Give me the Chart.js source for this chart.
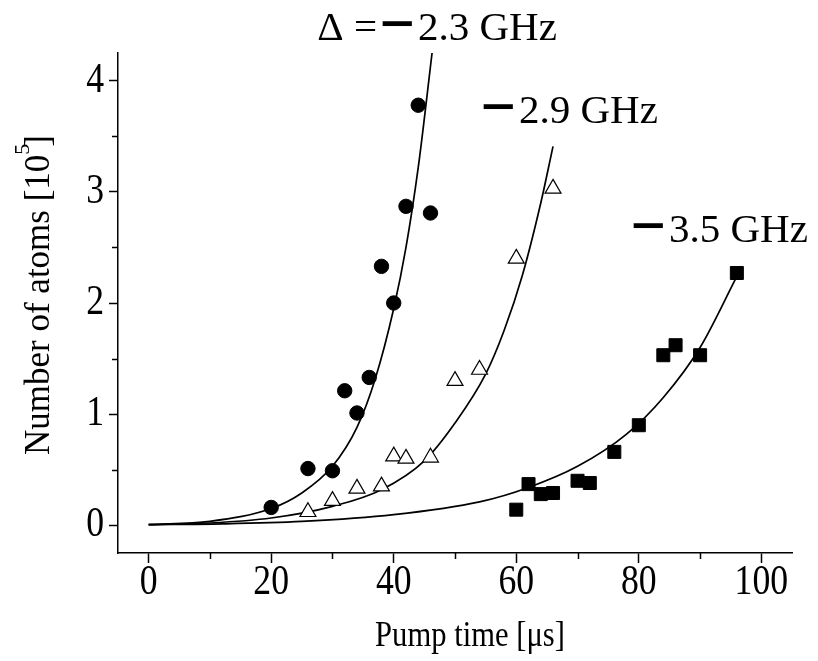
<!DOCTYPE html>
<html>
<head>
<meta charset="utf-8">
<script src="https://cdn.jsdelivr.net/npm/chart.js@4.4.1/dist/chart.umd.min.js"></script>
<style>
    html, body { margin: 0; padding: 0; background: #ffffff; }
    #pumpChart { display: block; }
</style>
</head>
<body>
<canvas id="pumpChart" width="818" height="661"></canvas>
<script>
// Measured points (pump time in us, atoms in 1e5)
var circleTime = [20, 26, 30, 32, 34, 36, 38, 40, 42, 44, 46];
var circleAtoms = [0.16, 0.51, 0.49, 1.21, 1.01, 1.33, 2.33, 2.00, 2.87, 3.78, 2.81];
var triangleTime = [26, 30, 34, 38, 40, 42, 46, 50, 54, 60, 66];
var triangleAtoms = [0.12, 0.22, 0.33, 0.35, 0.62, 0.60, 0.61, 1.30, 1.40, 2.40, 3.03];
var squareTime = [60, 62, 64, 66, 70, 72, 76, 80, 84, 86, 90, 96];
var squareAtoms = [0.14, 0.37, 0.28, 0.29, 0.40, 0.38, 0.66, 0.90, 1.53, 1.62, 1.53, 2.27];

// Fit curves
var fitTimeA = [0, 10, 20, 25, 30, 34, 37, 40, 42, 44, 46.3];
var fitAtomsA = [0.005, 0.035, 0.15, 0.29, 0.53, 0.88, 1.32, 1.95, 2.5, 3.22, 4.27];
var fitTimeB = [0, 10, 20, 30, 38, 45, 50, 55, 58, 61, 64, 66];
var fitAtomsB = [0.005, 0.02, 0.065, 0.17, 0.32, 0.58, 0.92, 1.36, 1.75, 2.25, 2.9, 3.41];
var fitTimeC = [0, 12, 25, 40, 54, 62, 70, 78, 84, 90, 96];
var fitAtomsC = [0.005, 0.012, 0.034, 0.095, 0.21, 0.34, 0.53, 0.82, 1.15, 1.6, 2.24];

// Axes
var xTicks = [0, 20, 40, 60, 80, 100];
var xMinorTicks = [10, 30, 50, 70, 90];
var yTicks = [0, 1, 2, 3, 4];
var yMinorTicks = [0.5, 1.5, 2.5, 3.5];
var detuningPrefix = ['\u0394 =', '', ''];
var detuningValues = ['2.3 GHz', '2.9 GHz', '3.5 GHz'];

function toPoints(xs, ys) {
    return xs.map(function(x, i) { return { x: x, y: ys[i] }; });
}

const SERIF = '"Liberation Serif", "Times New Roman", serif';
// the original figure squeezes its axis text sideways
const SQUEEZE = 0.85;

function squeezedText(ctx, text, x, y, align) {
    ctx.save();
    ctx.translate(x, y);
    ctx.scale(SQUEEZE, 1);
    ctx.textAlign = align;
    ctx.fillText(text, 0, 0);
    ctx.restore();
}

// Minor ticks, tick labels, axis titles and the detuning labels
const figureTextPlugin = {
    id: 'figureText',
    afterDraw: function(chart) {
        const ctx = chart.ctx;
        const area = chart.chartArea;
        const xs = chart.scales.x;
        const ys = chart.scales.y;
        ctx.save();

        // minor tick marks
        ctx.strokeStyle = '#000';
        ctx.lineWidth = 1.5;
        ctx.beginPath();
        xMinorTicks.forEach(function(v) {
            const px = Math.round(xs.getPixelForValue(v)) + 0.5;
            ctx.moveTo(px, area.bottom);
            ctx.lineTo(px, area.bottom + 6);
        });
        yMinorTicks.forEach(function(v) {
            const py = Math.round(ys.getPixelForValue(v)) + 0.5;
            ctx.moveTo(area.left, py);
            ctx.lineTo(area.left - 6, py);
        });
        ctx.stroke();

        ctx.fillStyle = '#000';

        // tick labels
        ctx.font = '42px ' + SERIF;
        ctx.textBaseline = 'middle';
        xs.ticks.forEach(function(t) {
            squeezedText(ctx, String(t.value), xs.getPixelForValue(t.value), 583, 'center');
        });
        ys.ticks.forEach(function(t) {
            squeezedText(ctx, String(t.value), 104, ys.getPixelForValue(t.value), 'right');
        });

        ctx.textBaseline = 'alphabetic';

        // x title
        ctx.font = '36px ' + SERIF;
        squeezedText(ctx, 'Pump time [\u03bcs]', 470, 646, 'center');

        // y title with superscript
        ctx.save();
        ctx.translate(49, 455);
        ctx.rotate(-Math.PI / 2);
        ctx.textAlign = 'left';
        ctx.font = '35px ' + SERIF;
        const main = 'Number of atoms [10';
        const w = ctx.measureText(main).width;
        ctx.fillText(main, 0, 0);
        ctx.font = '22px ' + SERIF;
        const sw = ctx.measureText('5').width;
        ctx.fillText('5', w, -20);
        ctx.font = '35px ' + SERIF;
        ctx.fillText(']', w + sw - 3, 0);
        ctx.restore();

        // detuning labels: dash left edge, baseline
        const spots = [[382, 40], [483, 123], [633, 242]];
        spots.forEach(function(s, i) {
            const dashLeft = s[0], base = s[1];
            ctx.font = '41px ' + SERIF;
            if (detuningPrefix[i]) {
                ctx.textAlign = 'right';
                ctx.fillText(detuningPrefix[i], dashLeft - 5, base);
            }
            ctx.textAlign = 'left';
            ctx.font = 'bold 42px "DejaVu Sans"';
            const m = ctx.measureText('\u2212');
            const inkW = m.actualBoundingBoxLeft + m.actualBoundingBoxRight;
            const cy = base - 16;
            const dashBase = cy + (m.actualBoundingBoxAscent - m.actualBoundingBoxDescent) / 2;
            ctx.save();
            ctx.translate(dashLeft, dashBase);
            ctx.scale(30 / inkW, 1);
            ctx.fillText('\u2212', m.actualBoundingBoxLeft, 0);
            ctx.restore();
            ctx.font = '41px ' + SERIF;
            ctx.fillText(detuningValues[i], dashLeft + 36, base);
        });

        ctx.restore();
    }
};

const curveStyle = {
    showLine: true,
    borderColor: '#000',
    borderWidth: 1.7,
    pointRadius: 0,
    cubicInterpolationMode: 'monotone',
    fill: false
};

const ctx = document.getElementById('pumpChart').getContext('2d');
new Chart(ctx, {
    type: 'scatter',
    data: {
        datasets: [
            {
                label: '-2.3 GHz',
                data: toPoints(circleTime, circleAtoms),
                pointStyle: 'circle',
                pointRadius: 7.2,
                backgroundColor: '#000',
                borderColor: '#000',
                borderWidth: 1
            },
            {
                label: '-2.9 GHz',
                data: toPoints(triangleTime, triangleAtoms),
                pointStyle: 'triangle',
                pointRadius: 9.2,
                backgroundColor: '#fff',
                borderColor: '#000',
                borderWidth: 1.2
            },
            {
                label: '-3.5 GHz',
                data: toPoints(squareTime, squareAtoms),
                pointStyle: 'rect',
                pointRadius: 9.2,
                backgroundColor: '#000',
                borderColor: '#000',
                borderWidth: 1
            },
            Object.assign({ label: 'fit A', data: toPoints(fitTimeA, fitAtomsA) }, curveStyle),
            Object.assign({ label: 'fit B', data: toPoints(fitTimeB, fitAtomsB) }, curveStyle),
            Object.assign({ label: 'fit C', data: toPoints(fitTimeC, fitAtomsC) }, curveStyle)
        ]
    },
    options: {
        responsive: false,
        animation: false,
        layout: {
            padding: { top: 53, right: 26, left: 0, bottom: 0 }
        },
        scales: {
            x: {
                type: 'linear',
                min: -5,
                max: 105,
                afterBuildTicks: function(scale) {
                    scale.ticks = xTicks.map(function(v) { return { value: v }; });
                },
                afterFit: function(scale) { scale.height = 108; },
                grid: {
                    drawOnChartArea: false,
                    drawTicks: true,
                    tickLength: 10,
                    tickColor: '#000',
                    tickWidth: 1.5
                },
                border: { display: true, color: '#000', width: 1.5 },
                ticks: { display: false }
            },
            y: {
                type: 'linear',
                min: -0.25,
                max: 4.25,
                afterBuildTicks: function(scale) {
                    scale.ticks = yTicks.map(function(v) { return { value: v }; });
                },
                afterFit: function(scale) { scale.width = 118; },
                grid: {
                    drawOnChartArea: false,
                    drawTicks: true,
                    tickLength: 9,
                    tickColor: '#000',
                    tickWidth: 1.5
                },
                border: { display: true, color: '#000', width: 1.5 },
                ticks: { display: false }
            }
        },
        plugins: {
            legend: { display: false },
            tooltip: { enabled: false }
        }
    },
    plugins: [figureTextPlugin]
});
</script>
</body>
</html>
